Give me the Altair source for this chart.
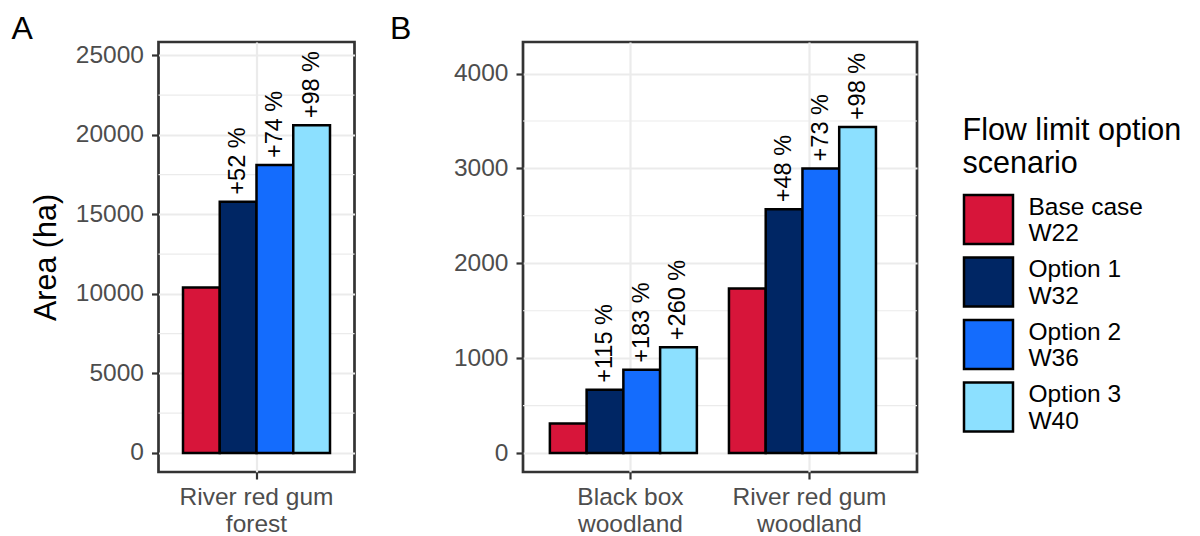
import altair as alt
import pandas as pd

FONT = "Liberation Sans"

scenarios = ["Base case\nW22", "Option 1\nW32", "Option 2\nW36", "Option 3\nW40"]
colors = ["#D7153A", "#002664", "#146CFD", "#8CE0FF"]

# Panel A
veg_a = ["River red gum\nforest"]
area_a = [10400, 15800, 18100, 20600]
label_a = ["", "+52 %", "+74 %", "+98 %"]
ticks_a = [0, 5000, 10000, 15000, 20000, 25000]
minor_a = [2500, 7500, 12500, 17500, 22500]
domain_a = [-1200, 25840]

# Panel B
veg_b = ["Black box\nwoodland", "River red gum\nwoodland"]
area_b_blackbox = [310, 667, 877, 1116]
area_b_rrg = [1735, 2570, 3000, 3435]
label_b_blackbox = ["", "+115 %", "+183 %", "+260 %"]
label_b_rrg = ["", "+48 %", "+73 %", "+98 %"]
ticks_b = [0, 1000, 2000, 3000, 4000]
minor_b = [500, 1500, 2500, 3500]
domain_b = [-200, 4332]

df_a = pd.DataFrame({"veg": veg_a * 4, "scenario": scenarios, "area": area_a, "label": label_a})
df_b = pd.DataFrame({
    "veg": [veg_b[0]] * 4 + [veg_b[1]] * 4,
    "scenario": scenarios * 2,
    "area": area_b_blackbox + area_b_rrg,
    "label": label_b_blackbox + label_b_rrg,
})

legend = alt.Legend(
    title=["Flow limit option", "scenario"],
    titleFontSize=30.5, titleColor="black", titleFont=FONT, titleFontWeight="normal",
    titleLineHeight=33, titlePadding=14, titleLimit=500,
    labelFontSize=24.5, labelColor="black", labelFont=FONT, labelLimit=300,
    labelExpr="split(datum.label, '\\n')", labelBaseline="bottom",
    symbolType="square", symbolSize=2400, symbolStrokeColor="black", symbolStrokeWidth=2.5,
    symbolOpacity=1, labelOffset=14, rowPadding=2.5,
    orient="none", legendX=804, legendY=74,
)


def panel(df, veg, domain, ticks, minor, tag, tag_dx, width, ytitle):
    color = alt.Color("scenario:N", scale=alt.Scale(domain=scenarios, range=colors), legend=legend)
    x = alt.X("veg:N", sort=veg,
              scale=alt.Scale(domain=veg, paddingInner=0.1, paddingOuter=0.15),
              axis=alt.Axis(title=None, labelExpr="split(datum.label, '\\n')", labelAngle=0,
                            labelLineHeight=27, labelPadding=6))
    xo = alt.XOffset("scenario:N", sort=scenarios, scale=alt.Scale(domain=scenarios, paddingInner=0, paddingOuter=0))
    yscale = alt.Scale(domain=domain, nice=False, zero=False)
    yaxis = alt.Axis(values=ticks, format="d", title=ytitle, titleFontSize=30.5, titleColor="black",
                     titleFont=FONT, titleFontWeight="normal", titlePadding=14, labelPadding=8)
    rules = alt.Chart(pd.DataFrame({"v": minor})).mark_rule(color="#EBEBEB", strokeWidth=1.1).encode(
        y=alt.Y("v:Q", scale=yscale, axis=yaxis))
    bars = alt.Chart(df).mark_bar(stroke="black", strokeWidth=2.5, strokeOpacity=1, opacity=1).encode(
        x=x, xOffset=xo, y=alt.Y("area:Q", scale=yscale, axis=yaxis), color=color)
    text = alt.Chart(df).transform_filter("datum.label != ''").mark_text(
        angle=270, align="left", baseline="middle", dx=7, fontSize=23.5, font=FONT, color="black"
    ).encode(x=x, xOffset=xo, y=alt.Y("area:Q", scale=yscale, axis=yaxis), text="label:N")
    tag_mark = alt.Chart(pd.DataFrame({"tag": [tag]})).mark_text(
        align="left", baseline="alphabetic", fontSize=32, font=FONT, color="black"
    ).encode(x=alt.value(tag_dx), y=alt.value(-3), text="tag:N")
    return alt.layer(rules, bars, text, tag_mark).properties(width=width, height=430)


pa = panel(df_a, veg_a, domain_a, ticks_a, minor_a, "A", -147, 196, "Area (ha)")
pb = panel(df_b, veg_b, domain_b, ticks_b, minor_b, "B", -133, 394, None)

chart = alt.hconcat(pa, pb, spacing=31.5).properties(
    background="white", padding={"left": 9.5, "top": 11, "right": 5, "bottom": 0}
).configure_view(
    stroke="#333333", strokeWidth=2.7
).configure_axis(
    domain=False, grid=True, gridColor="#EBEBEB", gridWidth=2.2,
    tickColor="#333333", tickWidth=2.2, tickSize=7,
    labelColor="#4D4D4D", labelFontSize=24.5, labelFont=FONT,
)

chart.save("out.html", embed_options={"renderer": "svg", "actions": False})
